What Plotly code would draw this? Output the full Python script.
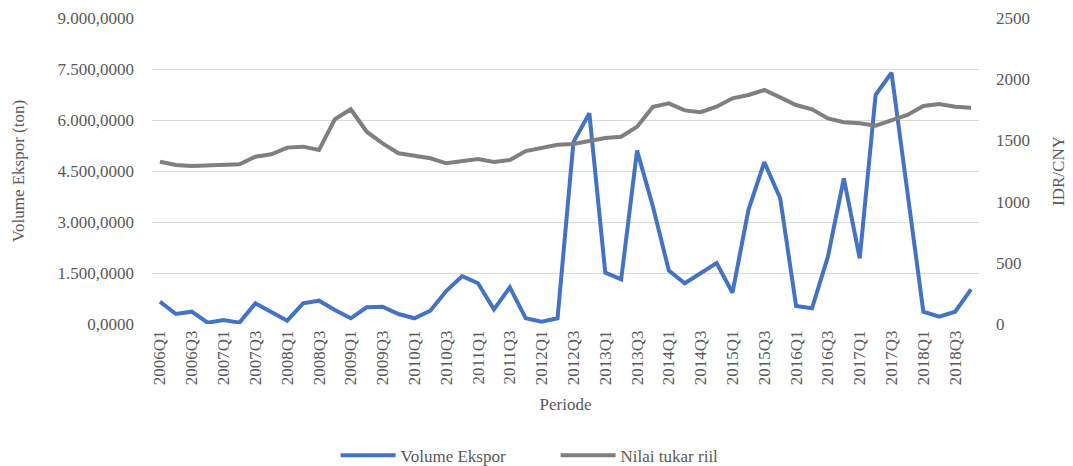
import plotly.graph_objects as go

periods = [f"{y}Q{q}" for y in range(2006, 2019) for q in range(1, 5)]

volume_ekspor = [
    656000, 294000, 362000, 38000, 118000, 40000, 608000, 344000, 97000, 608000,
    685000, 412000, 168000, 491000, 510000, 294000, 168000, 391000, 970000, 1410000,
    1200000, 432000, 1080000, 168000, 68000, 168000, 5350000, 6200000, 1510000, 1310000,
    5100000, 3450000, 1570000, 1200000, 1490000, 1790000, 921000, 3350000, 4760000, 3700000,
    529000, 462000, 1980000, 4280000, 1930000, 6740000, 7390000, 3840000, 362000, 215000,
    362000, 1020000,
]

nilai_tukar = [
    1326, 1299, 1291, 1293, 1302, 1305, 1367, 1387, 1441, 1449,
    1422, 1673, 1754, 1571, 1476, 1395, 1375, 1354, 1313, 1334,
    1348, 1324, 1340, 1413, 1441, 1465, 1471, 1498, 1520, 1530,
    1612, 1775, 1803, 1745, 1730, 1775, 1844, 1871, 1912, 1852,
    1789, 1754, 1680, 1648, 1640, 1620, 1661, 1708, 1781, 1797,
    1775, 1767,
]

left_ticks = [0, 1500000, 3000000, 4500000, 6000000, 7500000, 9000000]
left_ticktext = ["0,0000", "1.500,0000", "3.000,0000", "4.500,0000",
                 "6.000,0000", "7.500,0000", "9.000,0000"]
right_ticks = [0, 500, 1000, 1500, 2000, 2500]

FONT = "'Liberation Serif', 'Times New Roman', Times, serif"
TXT = "#595959"
FS = 17

fig = go.Figure()
fig.add_trace(go.Scatter(
    x=periods, y=volume_ekspor, name="Volume Ekspor", mode="lines",
    line=dict(color="#4472C4", width=4), yaxis="y",
))
fig.add_trace(go.Scatter(
    x=periods, y=nilai_tukar, name="Nilai tukar riil", mode="lines",
    line=dict(color="#7F7F7F", width=4), yaxis="y2",
))

# page has an 8px body margin, so the figure is sized/offset to compensate
fig.update_layout(
    width=1065, height=458,
    margin=dict(l=144, r=94, t=10, b=142, autoexpand=False),
    paper_bgcolor="white", plot_bgcolor="white",
    font=dict(family=FONT, size=FS, color=TXT),
    showlegend=True,
    legend=dict(orientation="h", x=0.222, xanchor="left", y=-0.43, yanchor="middle",
                font=dict(family=FONT, size=FS, color=TXT), itemwidth=55,
                entrywidth=150, traceorder="normal"),
    xaxis=dict(
        type="category", range=[-0.5, 51.5],
        tickmode="array", tickvals=periods[::2], ticktext=periods[::2],
        tickangle=-90, tickfont=dict(family=FONT, size=FS, color=TXT),
        showgrid=False, showline=False, zeroline=False, ticks="",
        ticklabelstandoff=2,
        title=dict(text="Periode", font=dict(family=FONT, size=FS, color=TXT), standoff=13),
        automargin=False,
    ),
    yaxis=dict(
        range=[0, 9000000], tickmode="array", tickvals=left_ticks, ticktext=left_ticktext,
        tickfont=dict(family=FONT, size=FS, color=TXT),
        showgrid=True, gridcolor="#D9D9D9", gridwidth=1, zeroline=False, showline=False,
        ticks="", ticklabelstandoff=17,
        title=dict(text="Volume Ekspor (ton)", font=dict(family=FONT, size=FS, color=TXT), standoff=28),
        automargin=False,
    ),
    yaxis2=dict(
        range=[0, 2500], tickmode="array", tickvals=right_ticks,
        overlaying="y", side="right",
        tickfont=dict(family=FONT, size=FS, color=TXT),
        showgrid=False, zeroline=False, showline=False, ticks="", ticklabelstandoff=16,
        title=dict(text="IDR/CNY", font=dict(family=FONT, size=FS, color=TXT), standoff=23),
        automargin=False,
    ),
)

fig.write_html("out.html")
